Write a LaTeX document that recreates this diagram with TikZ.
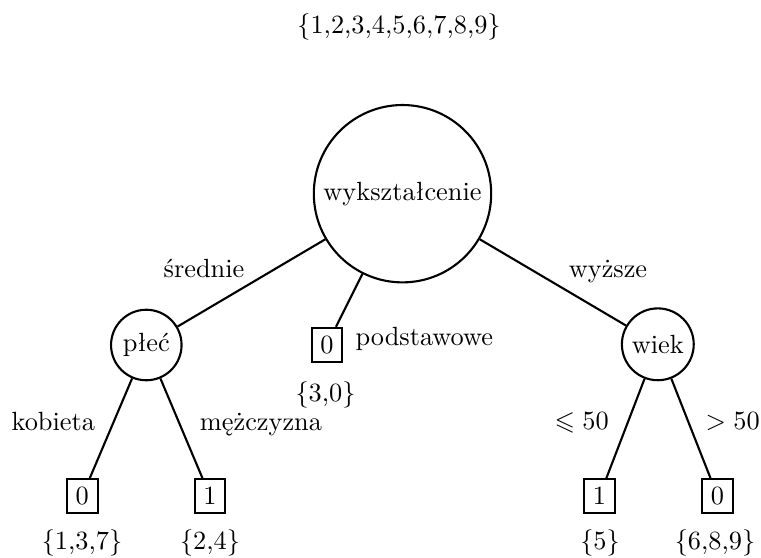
\documentclass[tikz,border=0pt]{standalone}
\usepackage{amssymb}
\begin{document}
\begin{tikzpicture}[x=0.380pt,y=-0.380pt,
  every node/.style={font=\fontsize{10}{12}\selectfont},
  split/.style={circle,draw,line width=0.8pt,inner sep=0pt},
  leafbox/.style={rectangle,draw,line width=0.7pt,inner sep=0pt,
    minimum width=11.7pt,minimum height=12.9pt},
  lbl/.style={anchor=base,inner sep=0pt},
  branch/.style={line width=0.8pt}]
\useasboundingbox (0,0) rectangle (761,557);

% decision nodes
\node[split,minimum size=67.4pt] (root) at (402.5,193.7) {wykształcenie};
\node[split,minimum size=26.8pt] (plec) at (146.3,345) {płeć};
\node[split,minimum size=27.3pt] (wiek) at (657.8,344.3) {wiek};

% leaves
\node[leafbox] (lpod) at (327,344.7) {0};
\node[leafbox] (lkob) at (82.2,496) {0};
\node[leafbox] (lmez) at (210,496) {1};
\node[leafbox] (lmlo) at (599.5,496) {1};
\node[leafbox] (lsta) at (717.5,496) {0};

% branches
\draw[branch] (root) -- (plec);
\draw[branch] (root) -- (lpod);
\draw[branch] (root) -- (wiek);
\draw[branch] (plec) -- (lkob);
\draw[branch] (plec) -- (lmez);
\draw[branch] (wiek) -- (lmlo);
\draw[branch] (wiek) -- (lsta);

% branch labels
\node[lbl] (tsr) at (204,277) {średnie};
\node[lbl] (twy) at (608,277) {wyższe};
\node[lbl,anchor=base west] (tpo) at (355,345) {podstawowe};
\node[lbl] (tko) at (53.3,430) {kobieta};
\node[lbl] (tme) at (261,430) {mężczyzna};
\node[lbl] (tle) at (581.7,429.5) {$\leqslant 50$};
\node[lbl] (tgt) at (732.7,429.5) {$> 50$};

% sets of records
\node[lbl] (sall) at (399,33.3) {\{1,2,3,4,5,6,7,8,9\}};
\node[lbl] (spod) at (325.5,401.5) {\{3,0\}};
\node[lbl] (skob) at (82,549) {\{1,3,7\}};
\node[lbl] (smez) at (210,549) {\{2,4\}};
\node[lbl] (smlo) at (600,549) {\{5\}};
\node[lbl] (ssta) at (715,549) {\{6,8,9\}};
\end{tikzpicture}
\end{document}
